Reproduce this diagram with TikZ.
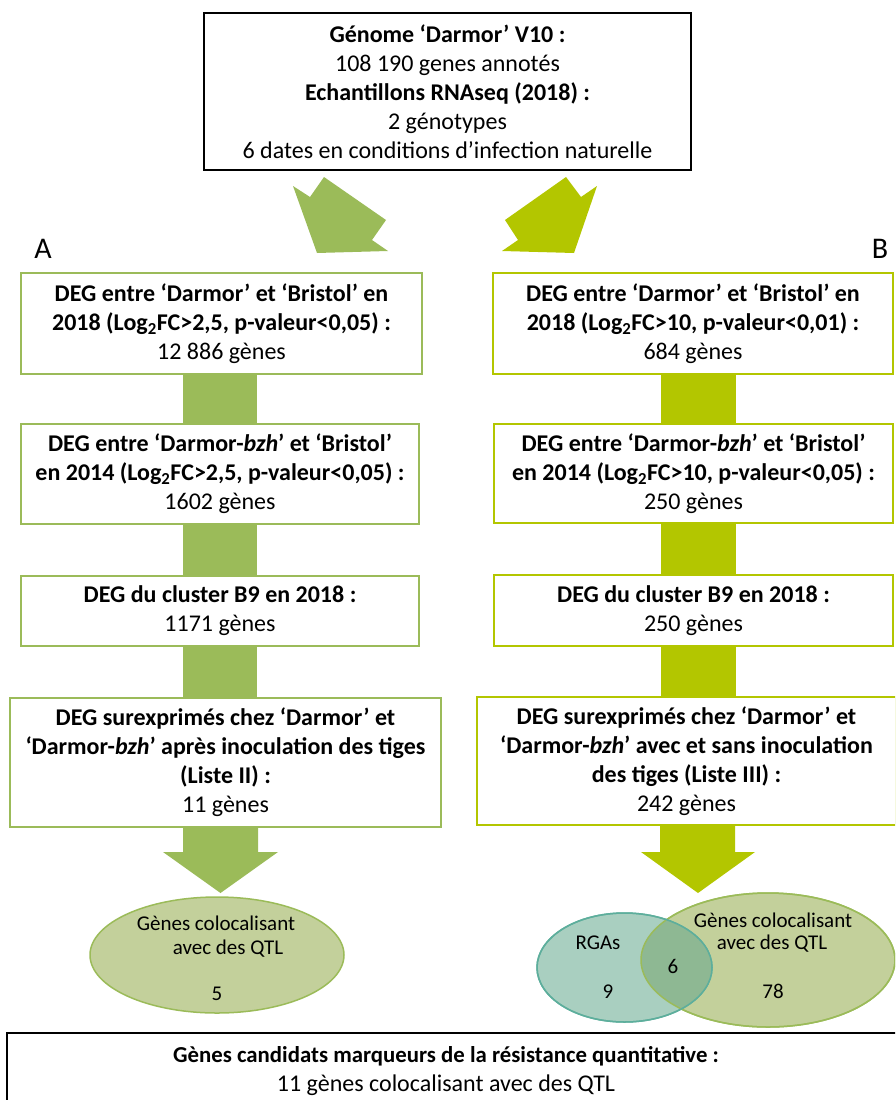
\documentclass[tikz,border=0pt]{standalone}
\usepackage{fontspec}
\setmainfont{Carlito}
\usetikzlibrary{shapes.geometric,backgrounds}
\definecolor{colA}{HTML}{9BBB59}
\definecolor{colB}{HTML}{B3C600}
\definecolor{ellA}{HTML}{C3D09B}
\definecolor{rgaFill}{HTML}{A9CFC0}
\definecolor{rgaLine}{HTML}{5DAE9C}
\definecolor{lens}{HTML}{8EB893}
\tikzset{
  txt/.style={font=\fontsize{24}{29}\selectfont, align=center, inner sep=0pt},
  topbox/.style={txt, draw=black, line width=1.3pt, fill=white, rectangle},
  boxA/.style={txt, draw=colA, line width=1.6pt, fill=white, rectangle},
  boxB/.style={txt, draw=colB, line width=1.6pt, fill=white, rectangle},
  finalbox/.style={draw=black, line width=1.8pt, fill=white, rectangle, inner sep=0pt},
  lab/.style={font=\fontsize{30}{34}\selectfont, inner sep=0pt},
  etxt/.style={font=\fontsize{21}{25}\selectfont, inner sep=0pt},
}
\begin{document}
\begin{tikzpicture}[x=1pt,y=-1pt]
\useasboundingbox (0,0) rectangle (895,1100);
\clip (0,0) rectangle (895,1100);

% top box
\node[topbox, minimum width=487pt, minimum height=157pt] (top) at (447.5,91.5)
 {\textbf{Génome ‘Darmor’ V10 :}\\108 190 genes annotés\\\textbf{Echantillons RNAseq (2018) :}\\2 génotypes\\6 dates en conditions d’infection naturelle};

% bent arrows
\fill[colA] (293,186) -- (310,197) -- (324,177) -- (386,220) -- (372,240) -- (388,251) -- (317,253) -- cycle;
\fill[colB] (597,186) -- (581,197) -- (566,177) -- (505,220) -- (518,240) -- (502,251) -- (574,253) -- cycle;

\node[lab] (labA) at (43,249) {A};
\node[lab] (labB) at (880,249) {B};

% column A
\node[boxA, minimum width=401pt, minimum height=101pt] (A1) at (221.5,323.5)
 {\textbf{DEG entre ‘Darmor’ et ‘Bristol’ en}\\\textbf{2018 (Log\textsubscript{2}FC>2,5, p-valeur<0,05) :}\\12 886 gènes};
\node[boxA, minimum width=398pt, minimum height=100pt] (A2) at (220,474)
 {\textbf{DEG entre ‘Darmor-\textit{bzh}’ et ‘Bristol’}\\\textbf{en 2014 (Log\textsubscript{2}FC>2,5, p-valeur<0,05) :}\\1602 gènes};
\node[boxA, minimum width=398pt, minimum height=70pt] (A3) at (220,611)
 {\textbf{DEG du cluster B9 en 2018 :}\\1171 gènes};
\node[boxA, minimum width=431pt, minimum height=129pt] (A4) at (225.5,762.5)
 {\textbf{DEG surexprimés chez ‘Darmor’ et}\\\textbf{‘Darmor-\textit{bzh}’ après inoculation des tiges}\\\textbf{(Liste II) :}\\11 gènes};

% column B
\node[boxB, minimum width=400pt, minimum height=101pt] (B1) at (693,323.5)
 {\textbf{DEG entre ‘Darmor’ et ‘Bristol’ en}\\\textbf{2018 (Log\textsubscript{2}FC>10, p-valeur<0,01) :}\\684 gènes};
\node[boxB, minimum width=399pt, minimum height=99pt] (B2) at (693.5,473.5)
 {\textbf{DEG entre ‘Darmor-\textit{bzh}’ et ‘Bristol’}\\\textbf{en 2014 (Log\textsubscript{2}FC>10, p-valeur<0,05) :}\\250 gènes};
\node[boxB, minimum width=399pt, minimum height=71pt] (B3) at (693.5,610.5)
 {\textbf{DEG du cluster B9 en 2018 :}\\250 gènes};
\node[boxB, minimum width=419pt, minimum height=128pt] (B4) at (686.5,761)
 {\textbf{DEG surexprimés chez ‘Darmor’ et}\\\textbf{‘Darmor-\textit{bzh}’ avec et sans inoculation}\\\textbf{des tiges (Liste III) :}\\242 gènes};

% connectors (behind boxes)
\begin{scope}[on background layer]
\fill[colA] (183,0 |- A1.south) rectangle (257,0 |- A2.north);
\fill[colA] (183,0 |- A2.south) rectangle (257,0 |- A3.north);
\fill[colA] (183,0 |- A3.south) rectangle (257,0 |- A4.north);
\fill[colB] (661,0 |- B1.south) rectangle (736,0 |- B2.north);
\fill[colB] (661,0 |- B2.south) rectangle (736,0 |- B3.north);
\fill[colB] (661,0 |- B3.south) rectangle (736,0 |- B4.north);
\end{scope}

% ellipse A
\node[ellipse, draw=colA, line width=1.5pt, fill=ellA, minimum width=254pt, minimum height=116pt, inner sep=0pt] (eA) at (217,955) {};
\node[etxt] (eA1) at (216,923) {Gènes colocalisant};
\node[etxt] (eA2) at (228,949) {avec des QTL};
\node[etxt] (eA3) at (217,994) {5};

% Venn
\node[ellipse, draw=colA, line width=1.5pt, fill=ellA, minimum width=254pt, minimum height=134pt, inner sep=0pt] (qtl) at (768,960) {};
\node[ellipse, draw=rgaLine, line width=1.5pt, fill=rgaFill, minimum width=175pt, minimum height=109pt, inner sep=0pt] (rga) at (624.5,967.5) {};
\begin{scope}
\clip (624.5,967.5) ellipse [x radius=87.5, y radius=54.5];
\fill[lens] (768,960) ellipse [x radius=127, y radius=67];
\end{scope}
\draw[colA, line width=1.5pt] (768,960) ellipse [x radius=127, y radius=67];
\draw[rgaLine, line width=1.5pt] (624.5,967.5) ellipse [x radius=87.5, y radius=54.5];
\node[etxt] (q1) at (773,920) {Gènes colocalisant};
\node[etxt] (q2) at (772,944) {avec des QTL};
\node[etxt] (q3) at (773,991) {78};
\node[etxt] (r1) at (598,943) {RGAs};
\node[etxt] (r2) at (608,992) {9};
\node[etxt] (r3) at (673,966) {6};

% down arrows
\fill[colA] (183,0 |- A4.south) -- (183,852) -- (163,852) -- (220.5,893) -- (278,852) -- (258,852) -- (258,0 |- A4.south) -- cycle;
\fill[colB] (660,0 |- B4.south) -- (660,852) -- (641,852) -- (698,893) -- (755,852) -- (735,852) -- (735,0 |- B4.south) -- cycle;

% final box
\node[finalbox, minimum width=898pt, minimum height=80pt] (final) at (456,1073) {};
\node[txt] (finaltext) at (446,1071)
 {{\fontsize{22.8}{29}\selectfont\textbf{Gènes candidats marqueurs de la résistance quantitative :}}\\11 gènes colocalisant avec des QTL};
\end{tikzpicture}
\end{document}
